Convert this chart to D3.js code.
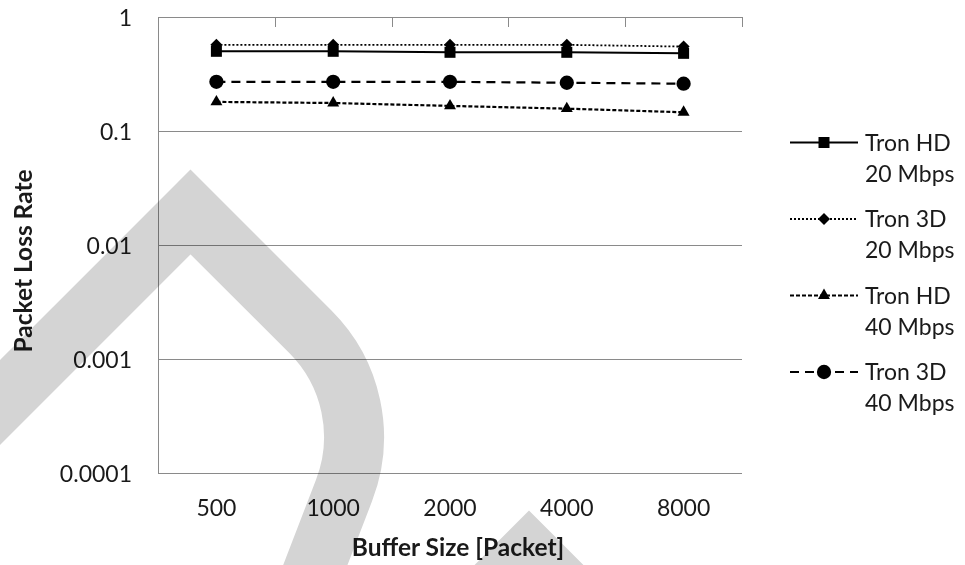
<!DOCTYPE html>
<html>
<head>
<meta charset="utf-8">
<script src="https://cdn.jsdelivr.net/npm/d3@7"></script>
<style>
  body { margin: 0; background: #fff; }
  svg { display: block; }
  text { font-family: Lato, "Open Sans", sans-serif; fill: #1a1a1a; }
</style>
</head>
<body>
<svg id="chart" width="965" height="565"></svg>
<script>
// Buffer sizes (categories) and packet loss rate per configuration
const bufferSizes = ["500", "1000", "2000", "4000", "8000"];
const tronHD20 = [0.50, 0.50, 0.49, 0.49, 0.48];
const tron3D20 = [0.57, 0.57, 0.57, 0.57, 0.55];
const tronHD40 = [0.18, 0.176, 0.166, 0.157, 0.146];
const tron3D40 = [0.27, 0.27, 0.27, 0.265, 0.26];
const seriesLabels = [["Tron HD", "20 Mbps"], ["Tron 3D", "20 Mbps"], ["Tron HD", "40 Mbps"], ["Tron 3D", "40 Mbps"]];
const yTickValues = [1, 0.1, 0.01, 0.001, 0.0001];
const yTickLabels = ["1", "0.1", "0.01", "0.001", "0.0001"];

const svg = d3.select("#chart");
const plot = { left: 158, right: 742, top: 17, bottom: 473 };

const x = d3.scaleBand().domain(bufferSizes).range([plot.left, plot.right]);
const y = d3.scaleLog().domain([0.0001, 1]).range([plot.bottom, plot.top]);

const series = [
  { values: tronHD20, dash: null, width: 2, symbol: d3.symbolSquare, size: 121 },
  { values: tron3D20, dash: "2,2", width: 1.8, symbol: d3.symbolDiamond2, size: 92 },
  { values: tronHD40, dash: "4,2", width: 2.2, symbol: d3.symbolTriangle, size: 62 },
  { values: tron3D40, dash: "9,6", width: 2.2, symbol: d3.symbolCircle, size: 160 }
];

const gridColor = "#8a8a8a";
const labelSize = 23;
const titleSize = 24.5;

// Horizontal gridlines (log decades)
svg.append("g").selectAll("line")
  .data(yTickValues.slice(1))
  .join("line")
  .attr("x1", plot.left).attr("x2", plot.right)
  .attr("y1", d => Math.round(y(d)) + 0.5).attr("y2", d => Math.round(y(d)) + 0.5)
  .attr("stroke", gridColor).attr("stroke-width", 1);

// Category axis along the top with inward ticks at band boundaries
const topAxis = svg.append("g");
topAxis.append("line")
  .attr("x1", plot.left).attr("x2", plot.right)
  .attr("y1", plot.top + 0.5).attr("y2", plot.top + 0.5)
  .attr("stroke", gridColor);
const boundaries = bufferSizes.map(d => x(d)).concat([plot.right]);
topAxis.selectAll("line.tick")
  .data(boundaries)
  .join("line").attr("class", "tick")
  .attr("x1", d => Math.round(d) + 0.5).attr("x2", d => Math.round(d) + 0.5)
  .attr("y1", plot.top).attr("y2", plot.top + 10)
  .attr("stroke", gridColor);

// Value axis line
svg.append("line")
  .attr("x1", plot.left + 0.5).attr("x2", plot.left + 0.5)
  .attr("y1", plot.top).attr("y2", plot.bottom)
  .attr("stroke", gridColor);

// Value tick labels
svg.append("g").selectAll("text")
  .data(yTickValues)
  .join("text")
  .attr("x", 132)
  .attr("y", d => y(d) + 1)
  .attr("dy", "0.35em")
  .attr("text-anchor", "end")
  .attr("font-size", labelSize)
  .text((d, i) => yTickLabels[i]);

// Category labels below the plot
svg.append("g").selectAll("text")
  .data(bufferSizes)
  .join("text")
  .attr("x", d => x(d) + x.bandwidth() / 2)
  .attr("y", 508)
  .attr("dy", "0.35em")
  .attr("text-anchor", "middle")
  .attr("font-size", labelSize)
  .text(d => d);

// Axis titles
svg.append("text")
  .attr("x", 458).attr("y", 547).attr("dy", "0.35em")
  .attr("text-anchor", "middle")
  .attr("font-size", titleSize).attr("font-weight", "bold")
  .text("Buffer Size [Packet]");
svg.append("text")
  .attr("transform", "translate(23,261) rotate(-90)")
  .attr("dy", "0.35em")
  .attr("text-anchor", "middle")
  .attr("font-size", titleSize).attr("font-weight", "bold")
  .text("Packet Loss Rate");

// Series lines and markers
const line = d3.line()
  .x((d, i) => x(bufferSizes[i]) + x.bandwidth() / 2)
  .y(d => y(d));

series.forEach(s => {
  svg.append("path")
    .attr("d", line(s.values))
    .attr("fill", "none")
    .attr("stroke", "#000")
    .attr("stroke-width", s.width)
    .attr("stroke-dasharray", s.dash);
  svg.append("g").selectAll("path")
    .data(s.values)
    .join("path")
    .attr("transform", (d, i) => `translate(${x(bufferSizes[i]) + x.bandwidth() / 2},${y(d)})`)
    .attr("d", d3.symbol().type(s.symbol).size(s.size))
    .attr("fill", "#000");
});

// Legend
const legend = svg.append("g");
const legendY = [142.5, 219, 295.5, 372];
series.forEach((s, i) => {
  const g = legend.append("g").attr("transform", `translate(0,${legendY[i]})`);
  g.append("line")
    .attr("x1", 790).attr("x2", 858)
    .attr("stroke", "#000")
    .attr("stroke-width", s.width)
    .attr("stroke-dasharray", s.dash);
  g.append("path")
    .attr("transform", "translate(824,0)")
    .attr("d", d3.symbol().type(s.symbol).size(s.size))
    .attr("fill", "#000");
  g.append("text")
    .attr("x", 865).attr("y", 0).attr("dy", "0.35em")
    .attr("font-size", labelSize)
    .text(seriesLabels[i][0]);
  g.append("text")
    .attr("x", 865).attr("y", 31).attr("dy", "0.35em")
    .attr("font-size", labelSize)
    .text(seriesLabels[i][1]);
});

// Light grey ribbon shapes laid over the figure
const ribbon = svg.append("g").style("mix-blend-mode", "multiply");
ribbon.append("path")
  .attr("d", "M-40,442.5 L190.5,212 L310.5,331.9 A148.6,148.6 0 0 1 344.1,490.3 L298,610")
  .attr("fill", "none").attr("stroke", "#d4d4d4").attr("stroke-width", 60)
  .attr("stroke-linejoin", "miter");
ribbon.append("path")
  .attr("d", "M470,612 L529,553 L588,612")
  .attr("fill", "none").attr("stroke", "#d4d4d4").attr("stroke-width", 60)
  .attr("stroke-linejoin", "miter");
</script>
</body>
</html>
